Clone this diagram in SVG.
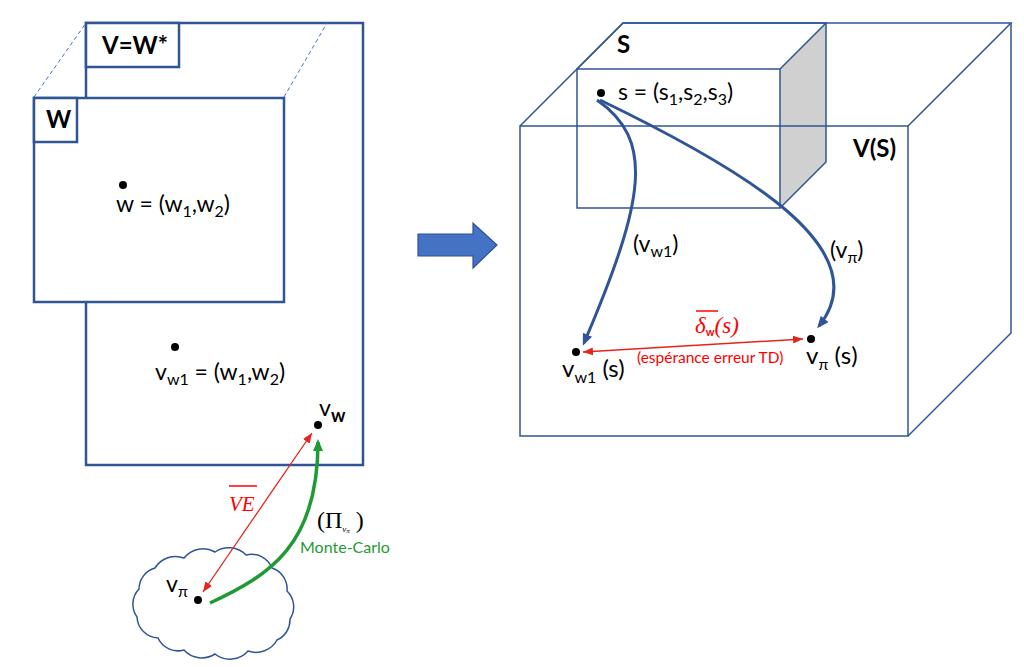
<svg xmlns="http://www.w3.org/2000/svg" width="1024" height="667" viewBox="0 0 1024 667">
<style>
.bx{fill:#fff;stroke:#2F5597;stroke-width:2.5}
.cb{fill:none;stroke:#2F5597;stroke-width:1.5}
.t{font-family:Lato,"Liberation Sans",sans-serif;font-size:23px;fill:#000}
.b{font-family:Lato,"Liberation Sans",sans-serif;font-size:24px;font-weight:bold;fill:#000}
.sub{font-size:16px}
.dot{fill:#000}
.serif{font-family:"Liberation Serif","DejaVu Serif",serif}
</style>
<defs>
<marker id="ab" markerUnits="userSpaceOnUse" viewBox="0 0 12 10" refX="9" refY="5" markerWidth="12" markerHeight="10" orient="auto"><path d="M0,0 L12,5 L0,10 z" fill="#2F5597"/></marker>
<marker id="ag" markerUnits="userSpaceOnUse" viewBox="0 0 12 10" refX="9" refY="5" markerWidth="12" markerHeight="10" orient="auto"><path d="M0,0 L12,5 L0,10 z" fill="#1F9A34"/></marker>
<marker id="ar" markerUnits="userSpaceOnUse" viewBox="0 0 10 8" refX="10" refY="4" markerWidth="10" markerHeight="8" orient="auto-start-reverse"><path d="M0,0 L10,4 L0,8 z" fill="#E8231B"/></marker>
</defs>
<rect width="1024" height="667" fill="#fff"/>

<g id="space-V">
<rect class="bx" x="86" y="23" width="277" height="442"/>
<rect class="bx" x="86" y="23" width="93" height="44"/>
<text class="b" x="102" y="54">V=W*</text>
<line x1="34" y1="97" x2="86" y2="23" stroke="#4472C4" stroke-width="1" stroke-dasharray="4,3"/>
<line x1="284" y1="97" x2="327" y2="23" stroke="#4472C4" stroke-width="1" stroke-dasharray="4,3"/>
</g>

<g id="space-W">
<rect class="bx" x="34" y="98" width="250" height="204"/>
<rect class="bx" x="34" y="98" width="43" height="44"/>
<text class="b" x="46" y="128">W</text>
</g>

<g id="point-w">
<circle class="dot" cx="123" cy="185" r="4"/>
<text class="t" x="116" y="212">w = (w<tspan class="sub" dy="5">1</tspan><tspan dy="-5">,w</tspan><tspan class="sub" dy="5">2</tspan><tspan dy="-5">)</tspan></text>
</g>

<g id="point-vw1">
<circle class="dot" cx="175" cy="347" r="4"/>
<text class="t" x="155" y="380">v<tspan class="sub" dy="5">w1</tspan><tspan dy="-5"> = (w</tspan><tspan class="sub" dy="5">1</tspan><tspan dy="-5">,w</tspan><tspan class="sub" dy="5">2</tspan><tspan dy="-5">)</tspan></text>
</g>

<g id="point-vw">
<circle class="dot" cx="318" cy="425" r="4"/>
<text class="t" x="319" y="416">v<tspan style="font-size:18px;font-weight:bold" dy="6">w</tspan></text>
</g>

<g id="cloud-vpi">
<path d="M137,617 A22,22 0 0 1 139,589 A22,22 0 0 1 155,568 A24,24 0 0 1 184,558 A24,24 0 0 1 215,552 A24,24 0 0 1 246,555 A22,22 0 0 1 272,568 A22,22 0 0 1 287,591 A22,22 0 0 1 290,619 A22,22 0 0 1 277,640 A24,24 0 0 1 248,651 A24,24 0 0 1 215,654 A24,24 0 0 1 184,650 A22,22 0 0 1 158,638 A22,22 0 0 1 137,617 Z" fill="#fff" stroke="#2F5597" stroke-width="1.5"/>
<circle class="dot" cx="198" cy="600" r="4"/>
<text class="t" x="166" y="592">v<tspan class="sub" dy="5">π</tspan></text>
</g>

<g id="big-arrow">
<polygon points="418,234 473,234 473,223 497,245 473,268 473,256 418,256" fill="#4472C4" stroke="#2F528F" stroke-width="1.2"/>
</g>

<g id="box-S">
<polygon points="780,69 826,23 826,162 780,208" fill="#D0D0D0" stroke="none"/>
<rect class="cb" x="577" y="69" width="203" height="139"/>
<polyline class="cb" points="577,69 623,23 826,23 780,69"/>
<polyline class="cb" points="826,23 826,162 780,208"/>
<text class="b" x="617" y="53">S</text>
<circle class="dot" cx="601" cy="93" r="4"/>
<text class="t" x="618" y="100">s = (s<tspan class="sub" dy="5">1</tspan><tspan dy="-5">,s</tspan><tspan class="sub" dy="5">2</tspan><tspan dy="-5">,s</tspan><tspan class="sub" dy="5">3</tspan><tspan dy="-5">)</tspan></text>
</g>

<g id="cube-VS">
<rect class="cb" x="520" y="126" width="388" height="310"/>
<polyline class="cb" points="520,126 623,23 1011,23 908,126"/>
<polyline class="cb" points="1011,23 1011,333 908,436"/>
<text class="b" x="853" y="157">V(S)</text>
</g>

<g id="point-vw1s">
<circle class="dot" cx="576" cy="352" r="4"/>
<text class="t" x="562" y="377" style="font-size:24px">v<tspan class="sub" dy="6">w1</tspan><tspan dy="-6"> (s)</tspan></text>
</g>

<g id="point-vpis">
<circle class="dot" cx="811" cy="339" r="4"/>
<text class="t" x="806" y="364" style="font-size:24px">v<tspan class="sub" dy="6">π</tspan><tspan dy="-6"> (s)</tspan></text>
</g>

<g id="connectors">
<path d="M597,100 C655,140 645,200 584,343" fill="none" stroke="#2F5597" stroke-width="3" marker-end="url(#ab)"/>
<path d="M600,100 C745,170 880,250 819,326" fill="none" stroke="#2F5597" stroke-width="3" marker-end="url(#ab)"/>
<line x1="583" y1="352" x2="803" y2="339" stroke="#E8231B" stroke-width="1.5" marker-start="url(#ar)" marker-end="url(#ar)"/>
<line x1="203" y1="592" x2="312" y2="433" stroke="#E8231B" stroke-width="1.3" marker-start="url(#ar)" marker-end="url(#ar)"/>
<path d="M210,603 C270,575 318,545 318,442" fill="none" stroke="#1F9A34" stroke-width="3.5" marker-end="url(#ag)"/>
</g>

<g id="labels">
<text class="t" x="633" y="252">(v<tspan class="sub" dy="5">w1</tspan><tspan dy="-5">)</tspan></text>
<text class="t" x="830" y="258">(v<tspan class="sub" dy="5">π</tspan><tspan dy="-5">)</tspan></text>
<text class="serif" x="695" y="333" style="font-size:23px;font-style:italic;fill:#F00">δ<tspan style="font-family:Lato,'Liberation Sans',sans-serif;font-style:normal;font-weight:bold;font-size:11px" dy="3">w</tspan><tspan dy="-3">(s)</tspan></text>
<line x1="696" y1="311" x2="718" y2="311" stroke="#F00" stroke-width="1.5"/>
<text x="637" y="363" style="font-family:Lato,'Liberation Sans',sans-serif;font-size:15.5px;fill:#F00">(espérance erreur TD)</text>
<text class="serif" x="229" y="511" style="font-size:21px;font-style:italic;fill:#F00">VE</text>
<line x1="229" y1="486" x2="257" y2="486" stroke="#F00" stroke-width="1.5"/>
<text class="serif" x="317" y="528" style="font-size:24px;fill:#000">(Π<tspan style="font-size:9px;font-style:italic" dy="4">v</tspan><tspan style="font-size:7px;font-style:italic" dy="1">π</tspan><tspan dy="-5"> )</tspan></text>
<text x="300" y="553" style="font-family:Lato,'Liberation Sans',sans-serif;font-size:16px;fill:#1F9A34">Monte-Carlo</text>
</g>
</svg>
